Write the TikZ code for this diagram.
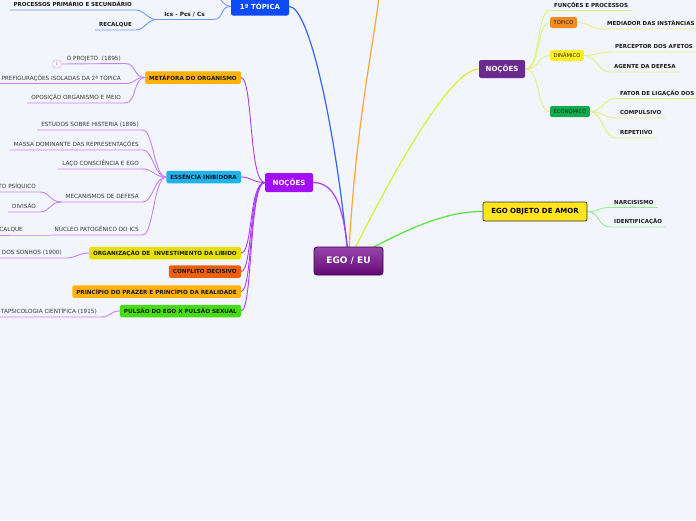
\documentclass[tikz,border=0pt]{standalone}
\usepackage{fontspec}
\setmainfont{DejaVu Sans}
\usetikzlibrary{backgrounds}

\definecolor{fundo}{RGB}{243,245,253}
\definecolor{egoTop}{RGB}{150,70,170}
\definecolor{egoBot}{RGB}{100,8,120}
\definecolor{egoEdge}{RGB}{60,0,75}
\definecolor{roxoNoc}{RGB}{163,15,245}
\definecolor{roxoEsc}{RGB}{107,42,142}
\definecolor{azulTop}{RGB}{10,75,245}
\definecolor{amarelo}{RGB}{255,228,30}
\definecolor{ambar}{RGB}{255,178,10}
\definecolor{ciano}{RGB}{30,178,240}
\definecolor{amareloV}{RGB}{230,224,0}
\definecolor{laranja}{RGB}{238,95,10}
\definecolor{verdeP}{RGB}{68,221,17}
\definecolor{laranjaT}{RGB}{242,140,30}
\definecolor{amareloD}{RGB}{255,236,34}
\definecolor{verdeE}{RGB}{15,170,75}
\definecolor{lnRoxo}{RGB}{175,60,245}
\definecolor{lnRoxoC}{RGB}{200,130,245}
\definecolor{lnAzul}{RGB}{50,100,255}
\definecolor{lnAzulC}{RGB}{110,150,255}
\definecolor{lnLaranja}{RGB}{255,165,50}
\definecolor{lnLima}{RGB}{215,240,50}
\definecolor{lnLimaC}{RGB}{225,240,120}
\definecolor{lnVerde}{RGB}{80,235,50}
\definecolor{lnVerdeC}{RGB}{150,240,140}

\begin{document}
\begin{tikzpicture}[
    x=1pt,
    y=-1pt,
    every node/.style={font=\fontsize{5.7}{6}\selectfont},
    leafL/.style={inner xsep=4pt, inner ysep=3pt, text depth=0pt, text=black!78, anchor=south east},
    leafR/.style={inner xsep=4pt, inner ysep=3pt, text depth=0pt, text=black!90,
      font=\fontsize{5.5}{6}\selectfont\bfseries, anchor=south west},
    topicbox/.style={rounded corners=1.5pt, minimum height=12.5pt, inner xsep=4pt, inner ysep=0pt,
      font=\fontsize{5.65}{6}\selectfont\bfseries, text=black!90, anchor=east},
    subbox/.style={rounded corners=1.5pt, minimum height=11pt, inner xsep=3.5pt, inner ysep=0pt,
      font=\fontsize{5.2}{6}\selectfont, text=black!85, anchor=west},
    mainbox/.style={rounded corners=2pt, inner sep=0pt, font=\fontsize{7}{8}\selectfont\bfseries},
    badge/.style={draw=lnRoxoC, fill=white, rounded corners=1.5pt, minimum width=8pt,
      minimum height=7pt, inner sep=0pt, font=\fontsize{4}{4}\selectfont, text=lnRoxo},
    brMain/.style={line width=1.2pt},
    brSub/.style={line width=0.9pt}
  ]

  \useasboundingbox (0,0) rectangle (696,520);

  % --- 1. 中心 ---
  \node[rounded corners=3pt, draw=egoEdge, line width=0.8pt, top color=egoTop, bottom color=egoBot,
    minimum width=69pt, minimum height=28pt, inner sep=0pt, text=white,
    font=\fontsize{9}{10}\selectfont\bfseries] (ego) at (348.5,261) {EGO / EU};

  % --- 2. 主題 ---
  \node[mainbox, fill=azulTop, text=white, minimum width=58pt, minimum height=18pt] (topica) at (260,6.5) {1ª TÓPICA};
  \node[mainbox, fill=roxoNoc, text=white, minimum width=48pt, minimum height=19pt] (nocL) at (289,182.5) {NOÇÕES};
  \node[mainbox, fill=roxoEsc, text=white, minimum width=46pt, minimum height=18pt] (nocR) at (502,69) {NOÇÕES};
  \node[mainbox, fill=amarelo, draw=black!80, line width=0.7pt, text=black, minimum width=104pt,
    minimum height=19pt] (amor) at (535,211.5) {EGO OBJETO DE AMOR};
  \coordinate (cimaL) at (379,-4);
  \coordinate (cimaT) at (218,-4);

  % --- 3. 左の NOÇÕES ---
  \node[topicbox, fill=ambar] (meta) at (241,77.5) {METÁFORA DO ORGANISMO};
  \node[topicbox, fill=ciano] (essencia) at (241,177) {ESSÊNCIA INIBIDORA};
  \node[topicbox, fill=amareloV] (organiz) at (241,253) {ORGANIZAÇÃO DE \ INVESTIMENTO DA LIBIDO};
  \node[topicbox, fill=laranja] (conflito) at (241,271.5) {CONFLITO DECISIVO};
  \node[topicbox, fill=ambar] (principio) at (241,291.5) {PRINCÍPIO DO PRAZER E PRINCÍPIO DA REALIDADE};
  \node[topicbox, fill=verdeP] (pulsao) at (241,311) {PULSÃO DO EGO X PULSÃO SEXUAL};

  % METÁFORA DO ORGANISMO
  \node[badge] (badge) at (57,64) {1};
  \node[leafL] (projeto) at (125,63.5) {O PROJETO \ (1895)};
  \node[leafL] (pref) at (125,83.5) {PREFIGURAÇÕES ISOLADAS DA 2ª TÓPICA};
  \node[leafL] (opos) at (125,103) {OPOSIÇÃO ORGANISMO E MEIO};

  % ESSÊNCIA INIBIDORA
  \node[leafL] (estudos) at (143,130) {ESTUDOS SOBRE HISTERIA (1895)};
  \node[leafL] (massa) at (143,150) {MASSA DOMINANTE DAS REPRESENTAÇÕES};
  \node[leafL] (laco) at (143,169) {LAÇO CONSCIÊNCIA E EGO};
  \node[leafL] (mecan) at (143,202) {MECANISMOS DE DEFESA};
  \node[leafL] (nucleo) at (143,235) {NÚCLEO PATOGÊNICO DO ICS};
  \node[leafL] (psiq) at (40,192) {TO PSÍQUICO};
  \node[leafL] (divisao) at (40,212) {DIVISÃO};
  \node[leafL] (recalq) at (27,235) {ECALQUE};

  % 左端で切れている項目
  \node[leafL] (sonhos) at (66,258) {O DOS SONHOS (1900)};
  \node[leafL] (metap) at (101,317) {TAPSICOLOGIA CIENTÍFICA (1915)};

  % --- 4. 1ª TÓPICA ---
  \node[leafR, anchor=south east, inner xsep=8pt, font=\fontsize{5.8}{6}\selectfont\bfseries] (ics) at (213,19.5) {Ics - Pcs / Cs};
  \node[leafR, anchor=south east] (procs) at (136,10) {PROCESSOS PRIMÁRIO E SECUNDÁRIO};
  \node[leafR, anchor=south east] (recalT) at (136,30) {RECALQUE};

  % --- 5. 右の NOÇÕES ---
  \node[leafR] (funcoes) at (550,10.5) {FUNÇÕES E PROCESSOS};
  \node[subbox, fill=laranjaT] (topico) at (550,22.5) {TÓPICO};
  \node[subbox, fill=amareloD] (dinam) at (550,55.5) {DINÂMICO};
  \node[subbox, fill=verdeE] (econ) at (550,111.5) {ECONÔMICO};
  \node[leafR] (mediador) at (603,29) {MEDIADOR DAS INSTÂNCIAS};
  \node[leafR] (percep) at (611,52) {PERCEPTOR DOS AFETOS};
  \node[leafR] (agente) at (610,72) {AGENTE DA DEFESA};
  \node[leafR] (fator) at (616,98.5) {FATOR DE LIGAÇÃO DOS};
  \node[leafR] (compul) at (616,118) {COMPULSIVO};
  \node[leafR] (repet) at (616,138) {REPETIIVO};

  % --- 6. EGO OBJETO DE AMOR ---
  \node[leafR] (narc) at (610,207.5) {NARCISISMO};
  \node[leafR] (ident) at (610,227) {IDENTIFICAÇÃO};

  % --- 7. 枝（背景レイヤー） ---
  \begin{scope}[on background layer]
    \fill[fundo] (0,0) rectangle (696,520);

    % 中心からの枝
    \draw[brMain, lnAzul] (ego.center) .. controls +(-13,-134) and +(20,0) .. (topica.east);
    \draw[brMain, lnLaranja] (ego.center) .. controls +(6,-130) and +(-4,40) .. (cimaL);
    \draw[brMain, lnLima] (ego.center) .. controls +(70,-140) and +(-20,0) .. (nocR.west);
    \draw[brMain, lnVerde] (ego.center) .. controls +(70,-40) and +(-30,0) .. (amor.west);
    \draw[brMain, lnRoxo] (ego.center) .. controls +(-4,-58) and +(20,0) .. (nocL.east);

    % 1ª TÓPICA
    \draw[brSub, lnAzulC] (topica.west) .. controls +(-6,0) and +(3,4) .. (cimaT);
    \draw[brSub, lnAzulC] (topica.west) .. controls +(-12,0) and +(12,0) .. (ics.south east) -- (ics.south west);
    \draw[brSub, lnAzulC] (ics.south west) .. controls +(-8,0) and +(8,0) .. (procs.south east) -- (procs.south west);
    \draw[brSub, lnAzulC] (ics.south west) .. controls +(-8,0) and +(8,0) .. (recalT.south east) -- (recalT.south west);

    % 左の NOÇÕES
    \draw[brSub, lnRoxo] (nocL.west) .. controls +(-16,0) and +(12,0) .. (meta.east);
    \draw[brSub, lnRoxo] (nocL.west) .. controls +(-12,0) and +(10,0) .. (essencia.east);
    \draw[brSub, lnRoxo] (nocL.west) .. controls +(-16,0) and +(12,0) .. (organiz.east);
    \draw[brSub, lnRoxo] (nocL.west) .. controls +(-16,0) and +(12,0) .. (conflito.east);
    \draw[brSub, lnRoxo] (nocL.west) .. controls +(-16,0) and +(12,0) .. (principio.east);
    \draw[brSub, lnRoxo] (nocL.west) .. controls +(-16,0) and +(12,0) .. (pulsao.east);

    \draw[brSub, lnRoxoC] (meta.west) .. controls +(-12,0) and +(12,0) .. (projeto.south east) -- (badge.east);
    \draw[brSub, lnRoxoC] (meta.west) .. controls +(-12,0) and +(12,0) .. (pref.south east) -- (pref.south west);
    \draw[brSub, lnRoxoC] (meta.west) .. controls +(-12,0) and +(12,0) .. (opos.south east) -- (opos.south west);

    \draw[brSub, lnRoxoC] (essencia.west) .. controls +(-12,0) and +(10,0) .. (estudos.south east) -- (estudos.south west);
    \draw[brSub, lnRoxoC] (essencia.west) .. controls +(-12,0) and +(10,0) .. (massa.south east) -- (massa.south west);
    \draw[brSub, lnRoxoC] (essencia.west) .. controls +(-12,0) and +(10,0) .. (laco.south east) -- (laco.south west);
    \draw[brSub, lnRoxoC] (essencia.west) .. controls +(-12,0) and +(10,0) .. (mecan.south east) -- (mecan.south west);
    \draw[brSub, lnRoxoC] (essencia.west) .. controls +(-12,0) and +(10,0) .. (nucleo.south east) -- (nucleo.south west);
    \draw[brSub, lnRoxoC] (mecan.south west) .. controls +(-12,0) and +(10,0) .. (psiq.south east) -- (psiq.south west);
    \draw[brSub, lnRoxoC] (mecan.south west) .. controls +(-12,0) and +(10,0) .. (divisao.south east) -- (divisao.south west);
    \draw[brSub, lnRoxoC] (nucleo.south west) -- (recalq.south east) -- (recalq.south west);

    \draw[brSub, lnRoxoC] (organiz.west) .. controls +(-10,0) and +(10,0) .. (sonhos.south east) -- (sonhos.south west);
    \draw[brSub, lnRoxoC] (pulsao.west) .. controls +(-10,0) and +(10,0) .. (metap.south east) -- (metap.south west);

    % 右の NOÇÕES
    \draw[brSub, lnLimaC] (nocR.east) .. controls +(16,0) and +(-14,0) .. (funcoes.south west) -- (funcoes.south east);
    \draw[brSub, lnLimaC] (nocR.east) .. controls +(16,0) and +(-14,0) .. (topico.west);
    \draw[brSub, lnLimaC] (nocR.east) .. controls +(16,0) and +(-14,0) .. (dinam.west);
    \draw[brSub, lnLimaC] (nocR.east) .. controls +(16,0) and +(-14,0) .. (econ.west);
    \draw[brSub, lnLimaC] (topico.east) .. controls +(12,0) and +(-12,0) .. (mediador.south west) -- (mediador.south east);
    \draw[brSub, lnLimaC] (dinam.east) .. controls +(12,0) and +(-12,0) .. (percep.south west) -- (percep.south east);
    \draw[brSub, lnLimaC] (dinam.east) .. controls +(12,0) and +(-12,0) .. (agente.south west) -- (agente.south east);
    \draw[brSub, lnLimaC] (econ.east) .. controls +(12,0) and +(-12,0) .. (fator.south west) -- (fator.south east);
    \draw[brSub, lnLimaC] (econ.east) .. controls +(12,0) and +(-12,0) .. (compul.south west) -- (compul.south east);
    \draw[brSub, lnLimaC] (econ.east) .. controls +(12,0) and +(-12,0) .. (repet.south west) -- (repet.south east);

    % EGO OBJETO DE AMOR
    \draw[brSub, lnVerdeC] (amor.east) .. controls +(12,0) and +(-12,0) .. (narc.south west) -- (narc.south east);
    \draw[brSub, lnVerdeC] (amor.east) .. controls +(12,0) and +(-12,0) .. (ident.south west) -- (ident.south east);
  \end{scope}

\end{tikzpicture}
\end{document}
